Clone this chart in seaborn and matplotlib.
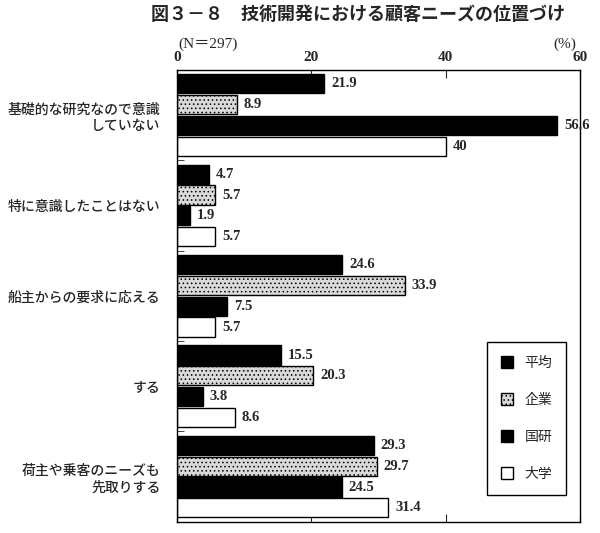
import matplotlib
matplotlib.use("Agg")
import matplotlib.pyplot as plt
from matplotlib.patches import Patch
import pandas as pd
import seaborn as sns

# データ
categories = ["基礎的な研究なので意識\nしていない", "特に意識したことはない", "船主からの要求に応える",
              "する", "荷主や乗客のニーズも\n先取りする"]
series = ["平均", "企業", "国研", "大学"]
heikin = [21.9, 4.7, 24.6, 15.5, 29.3]
kigyo = [8.9, 5.7, 33.9, 20.3, 29.7]
kokken = [56.6, 1.9, 7.5, 3.8, 24.5]
daigaku = [40, 5.7, 5.7, 8.6, 31.4]
xticks = [0, 20, 40, 60]

sns.set_style("white")
plt.rcParams['font.family'] = ['Noto Sans CJK JP', 'DejaVu Sans']
plt.rcParams['hatch.color'] = '#9a9a9a'
plt.rcParams['hatch.linewidth'] = 0.6
serif = ['Liberation Serif', 'Noto Sans CJK JP', 'DejaVu Sans']

rows = []
for name, vals in zip(series, [heikin, kigyo, kokken, daigaku]):
    for c, v in zip(categories, vals):
        rows.append({"category": c, "series": name, "value": v})
df = pd.DataFrame(rows)

fig = plt.figure(figsize=(6, 5.33), dpi=100)
ax = fig.add_axes([0.295, 0.021, 0.672, 0.848])

colors = {"平均": "black", "企業": "#d9d9d9", "国研": "black", "大学": "white"}
sns.barplot(data=df, y="category", x="value", hue="series", order=categories,
            hue_order=series, palette=colors, orient="h", width=0.92, gap=0.08,
            edgecolor="black", linewidth=1.0, legend=False, ax=ax)

for name, cont in zip(series, ax.containers):
    for bar in cont:
        bar.set_edgecolor("black")
        if name == "企業":
            bar.set_hatch("....")
    labels = [("%g" % v if v == int(v) else "%.1f" % v) for v in cont.datavalues]
    ax.bar_label(cont, labels=labels, padding=5, fontsize=10.5,
                 family=serif, fontweight='bold')

ax.set_xlim(0, 60)
ax.set_ylim(len(categories) - 0.5, -0.5)
ax.set_xticks(xticks)
ax.xaxis.tick_top()
ax.tick_params(axis='x', which='both', direction='in', length=6, top=True, bottom=True,
               labeltop=True, labelbottom=False, labelsize=11, pad=4)
for lab in ax.get_xticklabels():
    lab.set_family(serif)
    lab.set_fontweight('bold')
ax.set_yticks(range(len(categories)))
ax.set_yticklabels(categories, fontsize=10, ha='right', multialignment='right')
for lab in ax.get_yticklabels():
    lab.set_fontweight('medium')
ax.set_yticks([i + 0.5 for i in range(len(categories) - 1)], minor=True)
ax.tick_params(axis='y', which='major', length=0, pad=12)
ax.tick_params(axis='y', which='minor', direction='in', length=5, left=True)
ax.set_xlabel("")
ax.set_ylabel("")
for s in ax.spines.values():
    s.set_visible(True)
    s.set_color("black")
    s.set_linewidth(1.0)

handles = [Patch(facecolor=colors[n], edgecolor="black", hatch="...." if n == "企業" else None)
           for n in series]
leg = ax.legend(handles, series, loc="lower right", bbox_to_anchor=(0.965, 0.06),
                borderaxespad=0, fancybox=False, edgecolor="black", framealpha=1, fontsize=10,
                handlelength=0.9, handleheight=0.9, labelspacing=1.65,
                borderpad=1.0, handletextpad=0.8)
leg.get_frame().set_linewidth(1.0)

fig.text(0.252, 0.972, "図３－８　技術開発における顧客ニーズの位置づけ", fontsize=13,
         fontweight='bold', va='center', ha='left')
fig.text(0.298, 0.917, "(N＝297)", fontsize=11, va='center', ha='left', family=serif)
fig.text(0.96, 0.917, "(%)", fontsize=11, va='center', ha='right', family=serif)

fig.savefig("out.png", dpi=100)
